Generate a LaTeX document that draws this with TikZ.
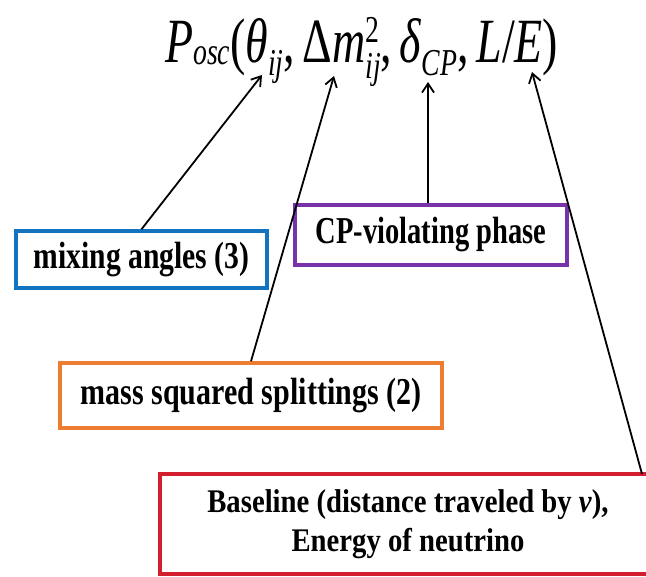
\documentclass[tikz,border=0pt]{standalone}
\usepackage{graphicx}
\usepackage{fontspec}
\setmainfont{Liberation Serif}
\usetikzlibrary{arrows.meta}
\definecolor{cblue}{RGB}{20,115,190}
\definecolor{cpurple}{RGB}{120,50,170}
\definecolor{corange}{RGB}{237,125,49}
\definecolor{cred}{RGB}{210,30,45}
\newcommand\ti[1]{\textit{#1}}
\newcommand\sbs[2][0.2]{\raisebox{-#1em}{\fontsize{38}{40}\selectfont\textit{#2}}}
\newcommand\sps[1]{\rlap{\raisebox{0.33em}{\fontsize{38}{40}\selectfont #1}}}
\begin{document}
\begin{tikzpicture}[x=1pt,y=-1pt,
  lbl/.style={draw, line width=3.5pt, inner sep=0pt, fill=white,
    font=\bfseries\fontsize{38}{40}\selectfont, align=center},
  conn/.style={-{Straight Barb[length=9pt,width=12pt]}, line width=1.8pt, black}]
\useasboundingbox (0,0) rectangle (646,577);
\fill[white] (0,0) rectangle (646,577);
\clip (0,0) rectangle (646,577);

\node[inner sep=0pt, anchor=base west] (formula) at (165,63)
  {\resizebox{393pt}{\height}{\fontsize{63}{70}\selectfont
   \ti{P}\sbs[0.03]{osc}(\ti{θ}\sbs{ij},\,Δ\ti{m}\sps{2}\sbs[0.25]{ij},\,\ti{δ}\sbs{CP},\,\ti{L}/\ti{E})}};

\node[lbl, draw=cblue, minimum width=251pt, minimum height=57pt] (mix) at (141.5,259.5)
  {\scalebox{0.78}[1]{mixing angles (3)}};
\node[lbl, draw=cpurple, minimum width=272pt, minimum height=60pt] (cp) at (431,235)
  {\scalebox{0.75}[1]{CP-violating phase}};
\node[lbl, draw=corange, minimum width=382pt, minimum height=65pt] (mass) at (251,395.5)
  {\scalebox{0.79}[1]{mass squared splittings (2)}};
\node[lbl, draw=cred, minimum width=536pt, minimum height=100pt,
  font=\bfseries\fontsize{33}{40}\selectfont] (base) at (428,524)
  {\hspace*{-40pt}\scalebox{0.87}[1]{\begin{tabular}{@{}c@{}}Baseline (distance traveled by \textit{ν}),\\Energy of neutrino\end{tabular}}};

\coordinate (tTheta) at (262,75);
\coordinate (tDm) at (334,76);
\coordinate (tDelta) at (428,82);
\coordinate (tLE) at (532,72);
\coordinate (sBase) at (642,474);

\draw[conn] (mix.north) -- (tTheta);
\draw[conn] (mass.north) -- (tDm);
\draw[conn] (cp.north -| tDelta) -- (tDelta);
\draw[conn] (sBase) -- (tLE);
\end{tikzpicture}
\end{document}
